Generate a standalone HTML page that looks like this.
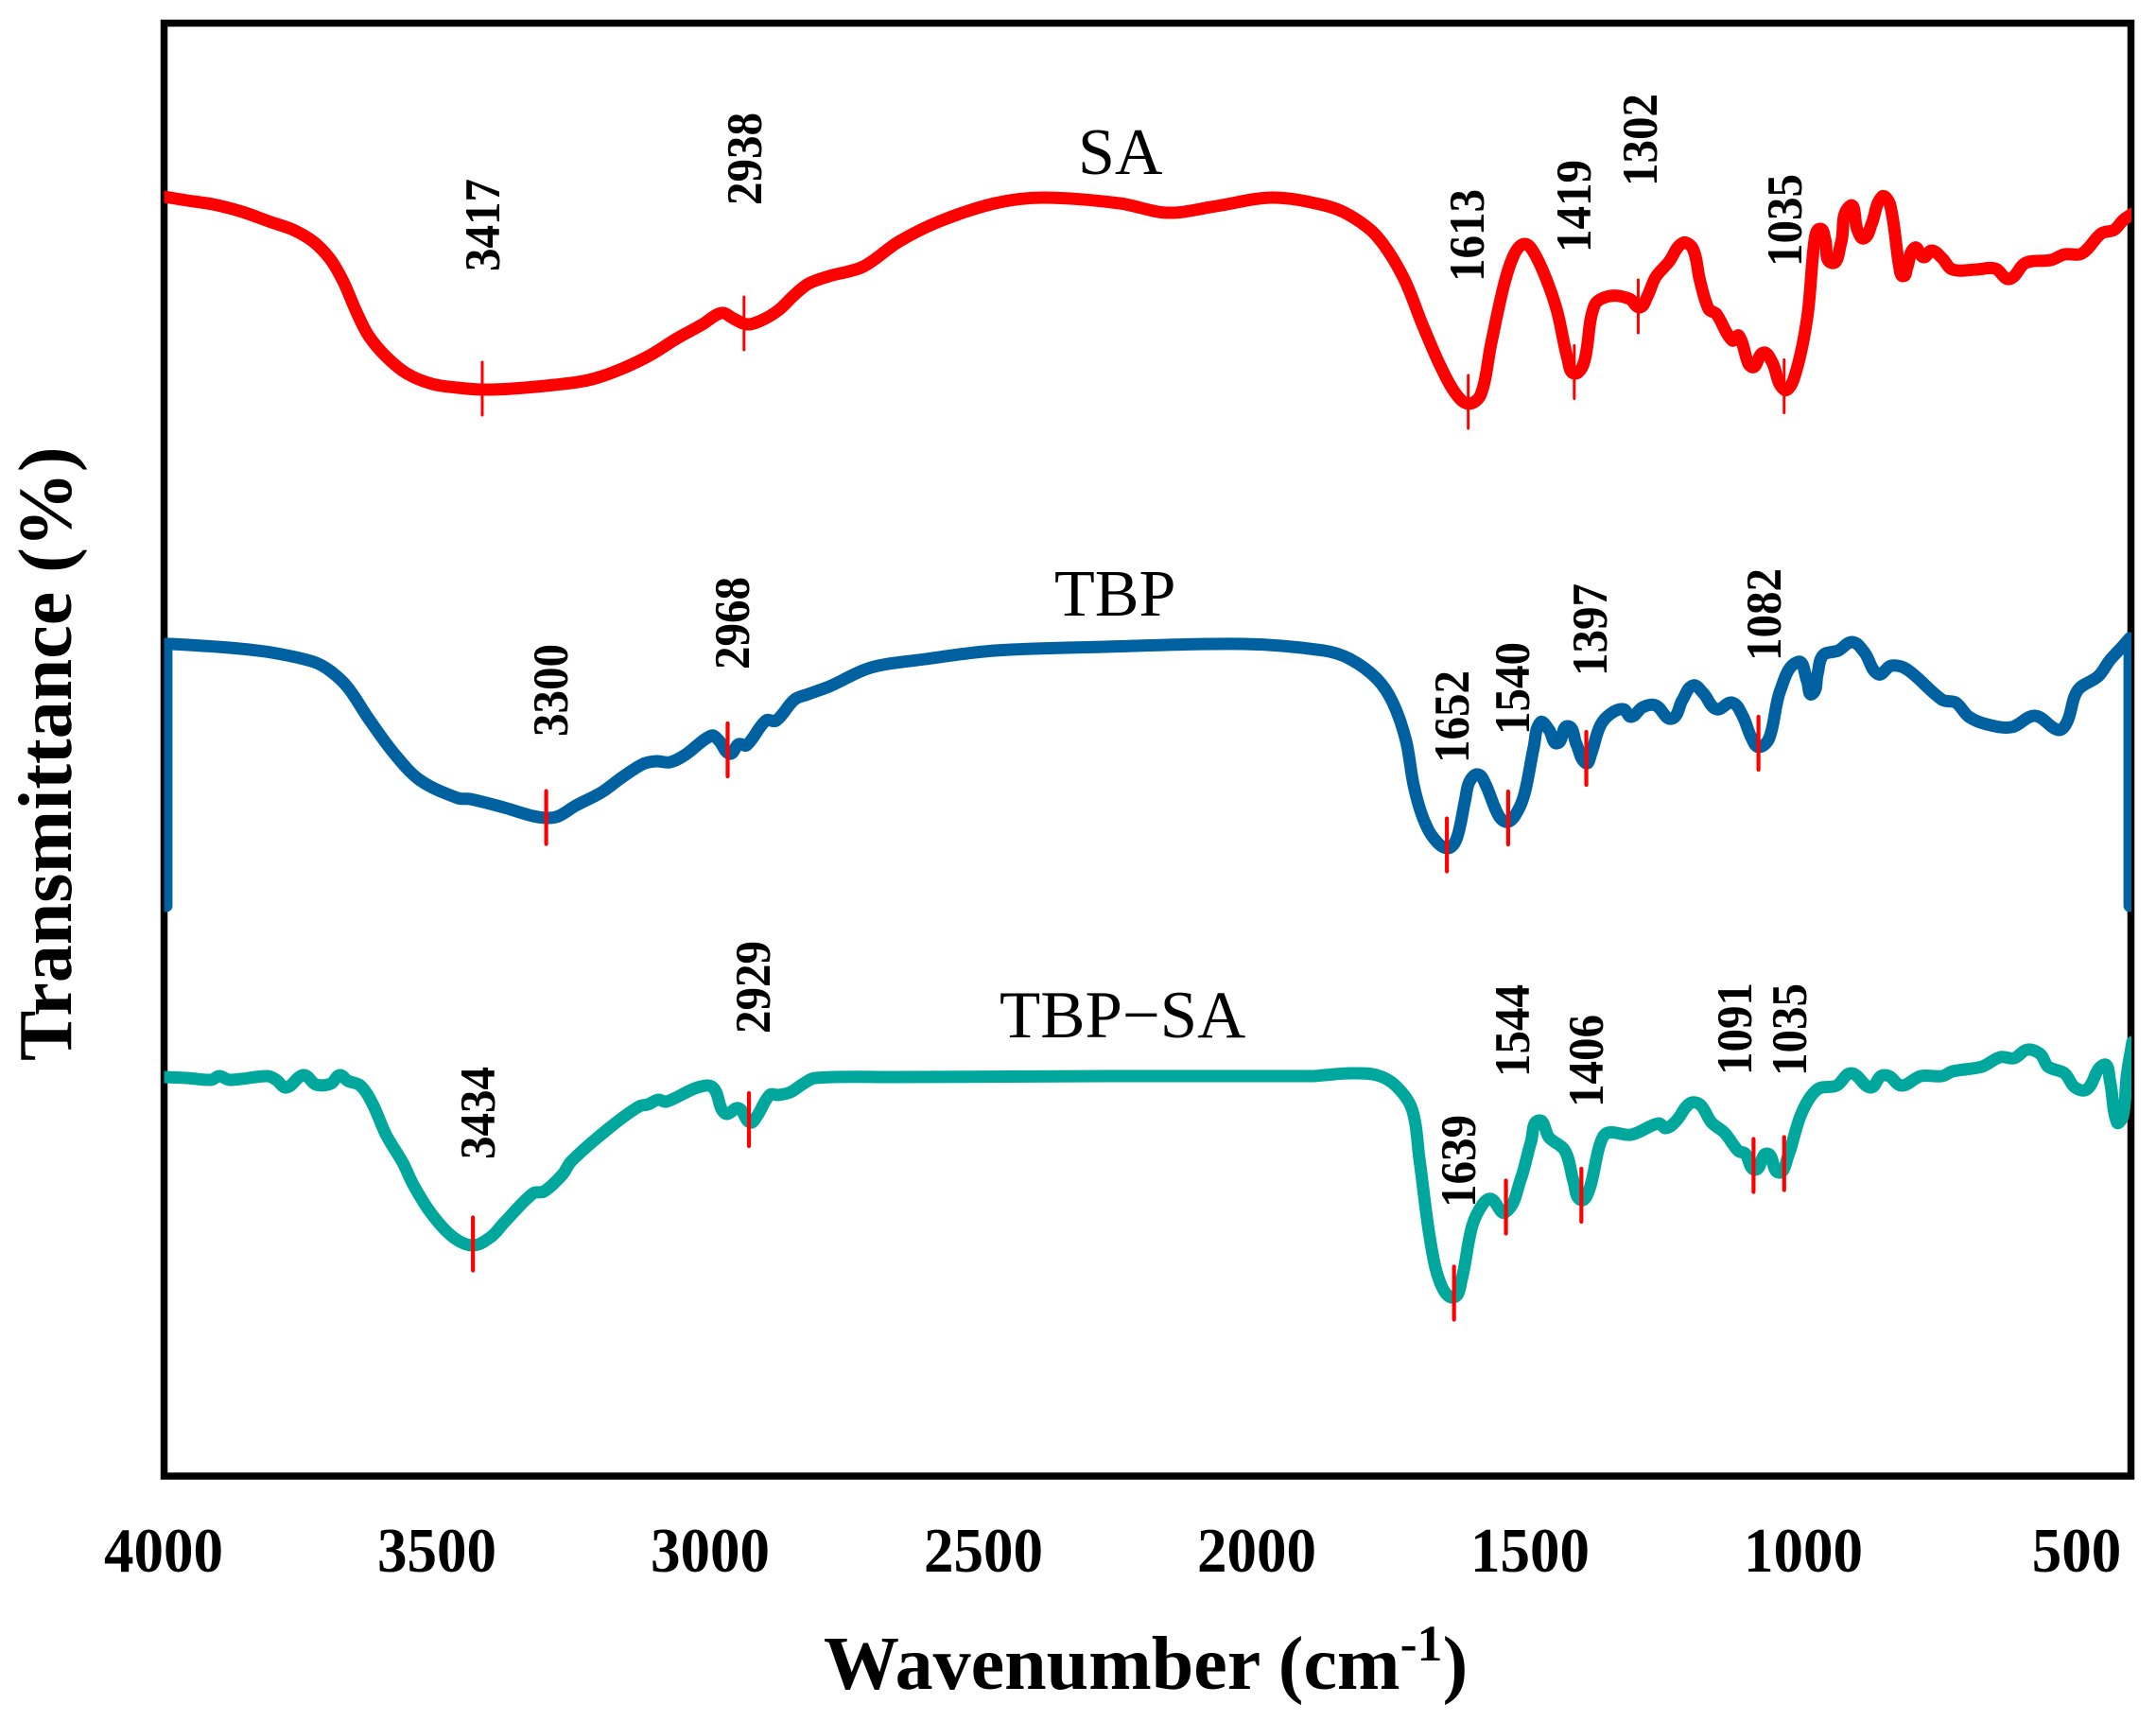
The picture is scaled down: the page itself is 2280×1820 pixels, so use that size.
<!DOCTYPE html>
<html lang="en">
<head>
<meta charset="utf-8">
<title>FTIR spectra of SA, TBP and TBP-SA</title>
<style>
html,body{margin:0;padding:0;background:#fff;width:2280px;height:1820px;overflow:hidden}
svg{display:block}
text{font-family:"Liberation Serif",serif;fill:#000}
.peak{font-size:49px;font-weight:700}
.tick{font-size:63px;font-weight:700;text-anchor:middle}
.name{font-size:70px}
.title{font-size:80px;font-weight:700}
</style>
</head>
<body>
<svg id="chart" xmlns="http://www.w3.org/2000/svg" width="2280" height="1820" viewBox="0 0 2280 1820">
  <defs>
    <clipPath id="plot-clip"><rect x="173.5" y="0" width="2080.5" height="1820"/></clipPath>
  </defs>
  <rect x="0" y="0" width="2280" height="1820" fill="#fff"/>
  <rect x="173.5" y="24.5" width="2080" height="1536.5" fill="none" stroke="#000" stroke-width="7.5"/>
  <g id="series-layer" clip-path="url(#plot-clip)"></g>
  <g id="peak-layer"></g>
  <g id="tick-layer"></g>

  <g>
    <text class="peak" transform="translate(528,287) rotate(-90) scale(1,1.08)">3417</text>
    <text class="peak" transform="translate(805,217) rotate(-90) scale(1,1.08)">2938</text>
    <text class="peak" transform="translate(1569,298) rotate(-90) scale(1,1.08)">1613</text>
    <text class="peak" transform="translate(1682,267) rotate(-90) scale(1,1.08)">1419</text>
    <text class="peak" transform="translate(1752,197) rotate(-90) scale(1,1.08)">1302</text>
    <text class="peak" transform="translate(1905,282) rotate(-90) scale(1,1.08)">1035</text>

    <text class="peak" transform="translate(600,779) rotate(-90) scale(1,1.08)">3300</text>
    <text class="peak" transform="translate(792,708) rotate(-90) scale(1,1.08)">2968</text>
    <text class="peak" transform="translate(1553,807) rotate(-90) scale(1,1.08)">1652</text>
    <text class="peak" transform="translate(1617,777) rotate(-90) scale(1,1.08)">1540</text>
    <text class="peak" transform="translate(1699,715) rotate(-90) scale(1,1.08)">1397</text>
    <text class="peak" transform="translate(1883,699) rotate(-90) scale(1,1.08)">1082</text>

    <text class="peak" transform="translate(523,1226) rotate(-90) scale(1,1.08)">3434</text>
    <text class="peak" transform="translate(814,1093) rotate(-90) scale(1,1.08)">2929</text>
    <text class="peak" transform="translate(1560,1277) rotate(-90) scale(1,1.08)">1639</text>
    <text class="peak" transform="translate(1617,1139) rotate(-90) scale(1,1.08)">1544</text>
    <text class="peak" transform="translate(1695,1171) rotate(-90) scale(1,1.08)">1406</text>
    <text class="peak" transform="translate(1852,1137) rotate(-90) scale(1,1.08)">1091</text>
    <text class="peak" transform="translate(1910,1138) rotate(-90) scale(1,1.08)">1035</text>
  </g>

  <text class="name" x="1140" y="184">SA</text>
  <text class="name" x="1115" y="651">TBP</text>
  <text class="name" style="font-size:70.8px" x="1057" y="1097">TBP−SA</text>

  <text class="title" transform="translate(75,1122) rotate(-90)">Transmittance (%)</text>
  <text class="title" x="871" y="1786">Wavenumber (cm<tspan dy="-30" style="font-size:54px;font-weight:700">-1</tspan><tspan dy="30">)</tspan></text>
</svg>

<script>
// Wavenumber (cm-1) and transmittance (arbitrary offset scale).
const tickValues = [4000, 3500, 3000, 2500, 2000, 1500, 1000, 500];

const saWavenumber = [3999,3957,3910,3856,3803,3763,3725,3694,3671,3647,3625,3593,3555,3509,3462,3417,3362,3285,3223,3170,3114,3061,3014,2979,2957,2933,2907,2875,2846,2820,2782,2720,2656,2580,2479,2391,2251,2163,2074,1972,1877,1829,1780,1732,1697,1664,1635,1612,1590,1571,1547,1528,1510,1493,1469,1450,1431,1419,1401,1382,1353,1318,1299,1285,1270,1246,1221,1202,1189,1173,1159,1130,1118,1100,1090,1073,1057,1035,1017,993,979,969,960,948,931,915,901,889,875,856,841,824,817,810,796,780,765,746,727,683,649,623,593,547,522,490,455,431,415,398];
const saTransmittance = [135.3,134.9,134.5,133.7,132.6,131.8,130.5,128.6,126.3,123.1,120.6,118.4,116.6,115.5,115.1,114.9,115,115.4,115.9,116.9,118.4,120.3,121.8,123,122.4,121.8,122.2,123.3,124.9,126.1,126.9,127.9,130.5,132.7,134.6,135.2,134.6,133.6,134.3,135.2,134.4,133.3,131.1,126.8,121.8,117.4,114.4,113.4,114.4,119.8,126.1,129.3,130.3,129.4,126.4,123.1,118.1,116.6,117.8,123.8,124.8,124.5,123.6,124.8,126.8,128.4,130.4,129.8,126.4,123.4,122.9,120.1,120.6,117.6,117.3,118.8,117.8,114.9,116.1,122.4,130.8,131.9,130.8,128.3,130.4,134.3,131.8,130.9,132.4,135.3,134.4,127.8,126.9,127.8,129.9,128.9,129.6,128.8,127.6,127.6,127.7,126.6,128.3,128.6,129.2,129.3,131.4,131.8,132.8,133.5];

const tbpWavenumber = [3995,3995,3995,3995,3985,3879,3803,3725,3694,3663,3625,3578,3531,3462,3439,3377,3324,3296,3277,3246,3199,3161,3123,3099,3073,3045,2998,2984,2964,2948,2933,2898,2879,2846,2820,2782,2706,2606,2479,2277,2024,1877,1829,1780,1751,1727,1713,1697,1678,1652,1635,1619,1611,1595,1581,1557,1540,1522,1509,1493,1481,1465,1450,1431,1415,1398,1388,1372,1353,1329,1315,1294,1270,1241,1221,1202,1183,1159,1130,1111,1095,1081,1062,1042,1010,993,984,974,964,936,910,888,863,839,810,746,721,697,664,619,576,533,517,498,460,439,415,403,403,403];
const tbpTransmittance = [60.3,86.1,88,88,88,87.6,87.1,86.1,85.1,83.4,80.1,76.4,73.6,71.7,71.6,70.7,69.8,69.6,69.8,70.9,72.3,73.9,75.3,75.6,75.5,76.3,78.3,77.8,76.4,77.4,77.3,79.9,79.9,82.1,82.7,83.5,85.5,86.4,87.3,87.7,88,87.3,86.4,84.3,81.8,77.8,73.1,69.8,67.6,66.4,67.3,71.4,73.4,74.2,73.1,69.8,69.2,70.4,72.4,77.1,79.7,78.9,77.5,79.3,77.4,75.4,76.4,79.3,80.6,81.1,80.3,81.3,81.5,80.1,82.1,83.6,82.8,81.1,81.8,80.4,78.1,77.1,78.1,83.1,86.1,84.1,82.7,84.8,86.8,87.3,88.2,87.1,84.8,85.7,85.3,82.1,81.8,80.3,79.5,79.2,80.4,78.9,79.8,83.1,84.6,86.3,87.8,88.6,88.6,60.3];

const tbpSaWavenumber = [3999,3957,3913,3898,3879,3810,3794,3775,3744,3721,3694,3678,3663,3640,3618,3593,3562,3543,3512,3471,3434,3401,3377,3324,3304,3270,3254,3185,3130,3114,3095,3080,3023,2995,2979,2969,2948,2927,2914,2891,2875,2853,2832,2808,2656,2277,1898,1877,1829,1780,1746,1716,1702,1683,1664,1640,1625,1606,1586,1571,1545,1517,1498,1484,1465,1436,1420,1407,1391,1372,1358,1315,1265,1251,1232,1208,1189,1168,1144,1119,1106,1088,1066,1045,1028,1003,974,939,912,877,858,843,820,785,746,727,673,640,614,590,566,552,522,503,481,450,439,426,415,408,398];
const tbpSaTransmittance = [42.2,42.1,41.9,42.3,41.9,42.3,41.9,41.1,42.4,41.4,41.5,42.4,41.8,41.3,39.4,36.1,33.1,30.8,27.9,25.3,24.4,25.3,26.8,29.9,30.1,31.9,33.3,36.8,39.1,39.3,39.8,39.6,41.1,41.1,38.8,38.3,38.9,37.4,38.1,40.3,40.3,40.6,41.4,42.1,42.2,42.3,42.3,42.4,42.6,42.4,41.3,38.8,33.4,25.1,20.4,18.9,20.8,26.4,28.8,29.3,27.9,31.4,35.4,37.6,35.8,34.4,31.1,29.2,30.4,35.1,36.3,36.1,37.3,36.8,37.6,39.4,39.3,37.4,36.3,34.4,34.1,32.4,34.1,32.1,33.8,38.4,40.9,41.3,42.6,41.1,42.3,42.3,41.3,42.3,42.3,42.8,43.3,44.3,44.2,45.1,44.6,43.3,42.6,41.1,40.9,43.5,41.8,37.4,38.1,42.4,45.9];

const saPeakWavenumber = [3417,2938,1613,1419,1302,1035];
const saPeakTransmittance = [115,121.9,113.6,116.75,123.7,115.25];
const tbpPeakWavenumber = [3300,2968,1652,1540,1397,1082];
const tbpPeakTransmittance = [69.65,76.8,66.75,69.6,75.9,77.5];
const tbpSaPeakWavenumber = [3434,2929,1639,1544,1406,1091,1035];
const tbpSaPeakTransmittance = [24.55,37.7,19.35,28.45,29.7,32.85,33.05];

const NS = 'http://www.w3.org/2000/svg';
function xScale(w) { return 173 + (4000 - w) * 0.578; }
function yScale(t) { return 1561 - t * 10; }

function unitTangent(from, to) {
  const dx = to[0] - from[0], dy = to[1] - from[1];
  const len = Math.hypot(dx, dy);
  return len === 0 ? [0, 0] : [dx / len, dy / len];
}

function smoothPath(ws, ts) {
  const p = ws.map(function (w, i) { return [xScale(w), yScale(ts[i])]; });
  let d = 'M' + p[0][0].toFixed(1) + ' ' + p[0][1].toFixed(1);
  for (let i = 0; i < p.length - 1; i++) {
    const a = p[Math.max(i - 1, 0)], b = p[i], c = p[i + 1], e = p[Math.min(i + 2, p.length - 1)];
    const chord = Math.hypot(c[0] - b[0], c[1] - b[1]) / 3;
    const t1 = unitTangent(a, c), t2 = unitTangent(b, e);
    const c1x = b[0] + t1[0] * chord, c1y = b[1] + t1[1] * chord;
    const c2x = c[0] - t2[0] * chord, c2y = c[1] - t2[1] * chord;
    d += 'C' + c1x.toFixed(1) + ' ' + c1y.toFixed(1) + ' ' + c2x.toFixed(1) + ' ' + c2y.toFixed(1) + ' ' + c[0].toFixed(1) + ' ' + c[1].toFixed(1);
  }
  return d;
}

const seriesLayer = document.getElementById('series-layer');
function drawSeries(name, ws, ts, color) {
  const el = document.createElementNS(NS, 'path');
  
  
  el.setAttribute('d', smoothPath(ws, ts));
  el.setAttribute('fill', 'none');
  el.setAttribute('stroke', color);
  el.setAttribute('stroke-width', '13');
  el.setAttribute('stroke-linejoin', 'round');
  el.setAttribute('stroke-linecap', 'round');
  seriesLayer.appendChild(el);
}
drawSeries('sa-spectrum', saWavenumber, saTransmittance, '#ff0000');
drawSeries('tbp-spectrum', tbpWavenumber, tbpTransmittance, '#0061a1');
drawSeries('tbp-sa-spectrum', tbpSaWavenumber, tbpSaTransmittance, '#00a79d');

const peakLayer = document.getElementById('peak-layer');
function drawPeaks(name, ws, ts, width) {
  ws.forEach(function (w, i) {
    const el = document.createElementNS(NS, 'line');
    
    
    el.setAttribute('x1', xScale(w));
    el.setAttribute('x2', xScale(w));
    el.setAttribute('y1', yScale(ts[i]) - 28);
    el.setAttribute('y2', yScale(ts[i]) + 28);
    el.setAttribute('stroke', '#ff0000');
    el.setAttribute('stroke-width', width);
    el.setAttribute('stroke-linecap', 'round');
    peakLayer.appendChild(el);
  });
}
drawPeaks('sa-peak-marker', saPeakWavenumber, saPeakTransmittance, 3);
drawPeaks('tbp-peak-marker', tbpPeakWavenumber, tbpPeakTransmittance, 4.2);
drawPeaks('tbp-sa-peak-marker', tbpSaPeakWavenumber, tbpSaPeakTransmittance, 4.2);

const tickLayer = document.getElementById('tick-layer');
tickValues.forEach(function (v) {
  const el = document.createElementNS(NS, 'text');
  
  
  el.setAttribute('class', 'tick');
  el.setAttribute('transform', 'translate(' + xScale(v) + ',1662) scale(1,1.06)');
  el.textContent = String(v);
  tickLayer.appendChild(el);
});
</script>
</body>
</html>
